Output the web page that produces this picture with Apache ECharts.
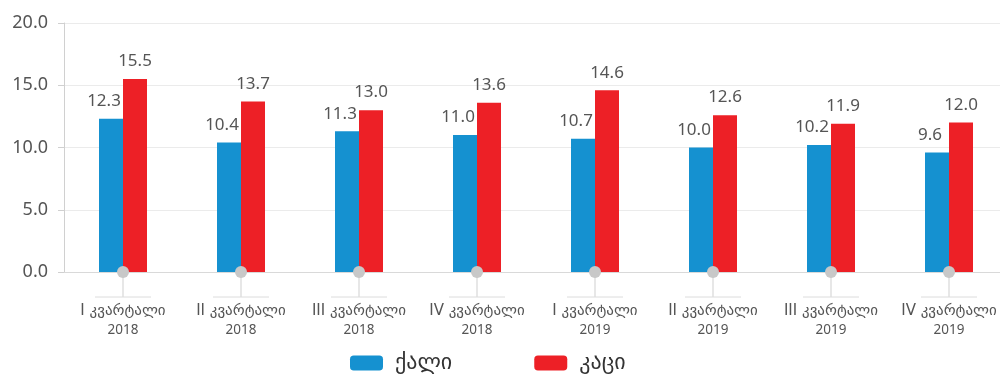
<!DOCTYPE html>
<html><head><meta charset="utf-8">
<script src="https://cdn.jsdelivr.net/npm/echarts@6/dist/echarts.min.js"></script>
<style>html,body{margin:0;padding:0;background:#fff;overflow:hidden;width:1000px;height:382px}#c{width:1008px;height:382px}</style>
</head><body><div id="c"></div>
<script>
var quarters = ['I კვარტალი', 'II კვარტალი', 'III კვარტალი', 'IV კვარტალი', 'I კვარტალი', 'II კვარტალი', 'III კვარტალი', 'IV კვარტალი'];
var years = ['2018', '2018', '2018', '2018', '2019', '2019', '2019', '2019'];
var women = [12.3, 10.4, 11.3, 11.0, 10.7, 10.0, 10.2, 9.6];
var men = [15.5, 13.7, 13.0, 13.6, 14.6, 12.6, 11.9, 12.0];
var yTicks = [0, 5, 10, 15, 20];

var categories = quarters.map(function (q, i) { return q + '|' + years[i]; });
var font = 'Noto Sans, DejaVu Sans, sans-serif';
var geo = 'DejaVu Sans, sans-serif';
var chart = echarts.init(document.getElementById('c'));
chart.setOption({
  animation: false,
  grid: { left: 64, top: 23, bottom: 110, right: 0 },
  legend: {
    bottom: 3, left: 345, itemWidth: 33, itemHeight: 15, itemGap: 82,
    data: ['ქალი', 'კაცი'],
    textStyle: { fontFamily: geo, fontSize: 22, color: '#333', padding: [0, 0, 0, 7] }
  },
  xAxis: {
    type: 'category', data: categories,
    axisLine: { lineStyle: { color: '#d9d9d9', width: 1 } },
    axisTick: { show: false },
    axisLabel: {
      margin: 30, interval: 0, color: '#555',
      formatter: function (v) { var s = v.split('|'); return '{q|' + s[0] + '}\n{y|' + s[1] + '}'; },
      rich: {
        q: { fontFamily: geo, fontSize: 15, color: '#555', lineHeight: 19 },
        y: { fontFamily: font, fontSize: 13.5, color: '#555', lineHeight: 19 }
      }
    }
  },
  yAxis: {
    type: 'value', min: yTicks[0], max: yTicks[yTicks.length - 1], interval: 5,
    axisLine: { show: true, lineStyle: { color: '#d0d0d0' } },
    axisTick: { show: true, length: 6, lineStyle: { color: '#d0d0d0' } },
    splitLine: { lineStyle: { color: '#ebebeb' } },
    axisLabel: { margin: 16, fontFamily: font, fontSize: 18, color: '#555', formatter: function (v) { return v.toFixed(1); } }
  },
  series: [
    { name: 'ქალი', type: 'bar', data: women, barWidth: 24, barGap: '0%', itemStyle: { color: '#1591d0' },
      label: { show: true, position: 'top', distance: 9, offset: [-7, 0], fontFamily: font, fontSize: 17, color: '#555', formatter: function (p) { return p.value.toFixed(1); } } },
    { name: 'კაცი', type: 'bar', data: men, barWidth: 24, itemStyle: { color: '#ed2026' },
      label: { show: true, position: 'top', distance: 9, offset: [0, 0], fontFamily: font, fontSize: 17, color: '#555', formatter: function (p) { return p.value.toFixed(1); } } },
    { name: 'marks', type: 'custom', clip: false, z: 10, silent: true,
      data: categories.map(function (c, i) { return [i, 0]; }),
      renderItem: function (params, api) {
        var p = api.coord([api.value(0), 0]);
        return { type: 'group', children: [
          { type: 'line', shape: { x1: p[0], y1: p[1], x2: p[0], y2: p[1] + 25 }, style: { stroke: '#cfcfcf', lineWidth: 1 } },
          { type: 'line', shape: { x1: p[0] - 28, y1: p[1] + 25, x2: p[0] + 28, y2: p[1] + 25 }, style: { stroke: '#dcdcdc', lineWidth: 1 } },
          { type: 'circle', shape: { cx: p[0], cy: p[1], r: 6 }, style: { fill: '#c8c8c8' } }
        ] };
      }
    }
  ]
});
</script></body></html>
